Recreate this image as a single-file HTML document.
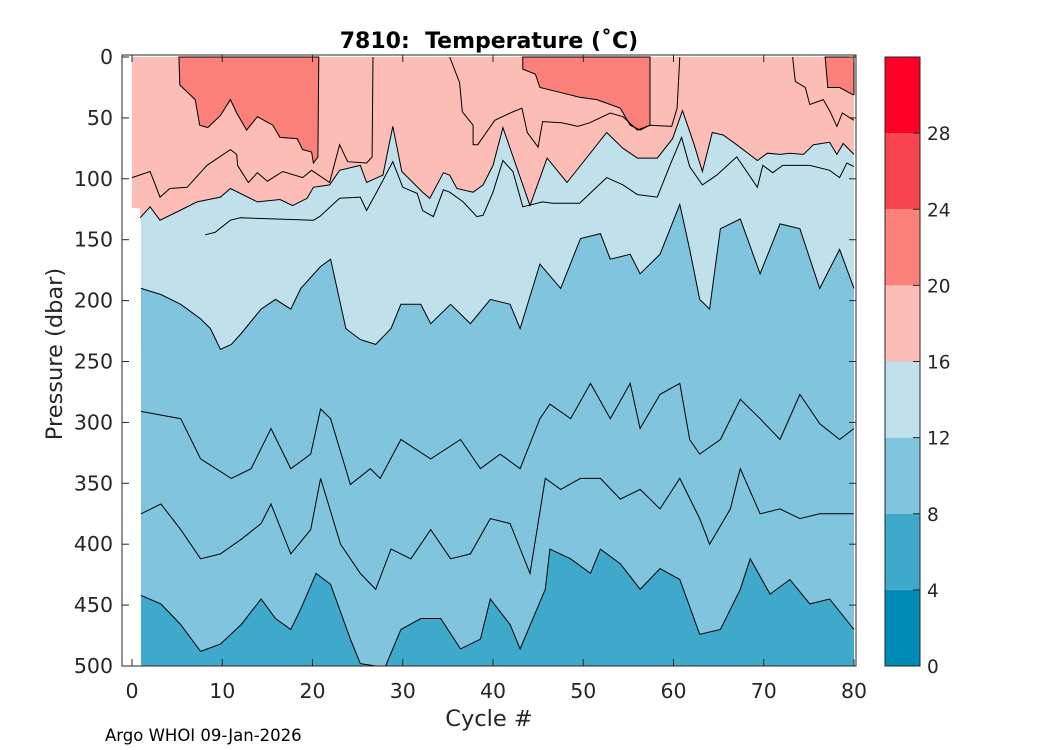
<!DOCTYPE html>
<html><head><meta charset="utf-8"><style>
body{margin:0;background:#fff;}
svg{display:block;font-family:"DejaVu Sans","Liberation Sans",sans-serif;}
</style></head><body>
<svg id="chart" width="1050" height="750"></svg>
<script>
const levels=[0,4,8,12,16,20,24,28,32];
const levelColors=["#008bb7","#3fa9cc","#80c4dd","#c0e1ec","#fdbdb7","#fa8079","#f7444f","#fe0026"];
const xTicks=[0,10,20,30,40,50,60,70,80];
const yTicks=[0,50,100,150,200,250,300,350,400,450,500];
const cbTicks=[0,4,8,12,16,20,24,28];
const isoAcyc=[0.9,2.0,3.1,5.3,7.2,9.8,10.9,13.9,16.4,17.8,19.4,20.1,21.9,23.0,25.3,26.0,27.8,28.9,29.9,32.2,33.0,34.5,35.2,36.0,37.8,38.9,40.0,41.1,44.1,46.0,48.2,52.6,54.4,56.0,58.2,59.9,61.0,62.2,63.2,64.3,65.5,67.0,69.3,70.4,71.8,72.9,74.4,75.5,77.3,78.1,78.8,80];
const isoAdep=[132,123,134,126,119,115,108,119,117,122,116,107,105,93,89,103,97,57,94,111,116,95,97,108,111,105,89,58,122,83,103,62,75,83,83,67,44,70,94,62,64,72,85,79,80,79,80,72,70,80,71,80];
const iso14cyc=[8.1,9.2,10.9,12.0,20.1,20.8,23.0,25.3,26.0,27.1,28.9,30.0,31.6,32.2,33.4,34.5,35.2,36.7,38.2,38.9,40.0,41.1,42.2,43.3,45.5,46.6,49.6,52.6,54.4,56.0,58.2,59.6,60.9,61.8,63.2,64.8,67.0,69.3,69.9,71.0,72.1,75.1,77.3,78.4,79.2,80];
const iso14dep=[146,144,134,132,134,131,116,115,126,111,86,107,112,126,131,109,111,119,131,130,111,85,94,123,119,120,120,99,105,113,115,89,66,90,105,97,82,107,89,95,89,89,93,99,87,90];
const iso18aCyc=[0,2.0,3.1,4.2,6.1,8.3,10.9,11.6,11.7,12.9,13.9,15.0,16.7,18.9,19.9,21.9,23.0,23.9,26.0,26.6,26.7];
const iso18aDep=[99,94,115,108,107,89,76,80,89,103,95,102,94,99,93,103,72,86,87,82,0];
const iso18bCyc=[35.2,36.3,36.6,37.8,37.8,38.3,40.2,41.9,43.2,43.8,45.0,45.5,47.6,49.4,50.7,53.0,54.4,56.0,57.4,59.8,60.4,60.7];
const iso18bDep=[0,21,45,56,72,72,52,46,42,62,74,53,54,57,54,46,49,60,56,57,42,0];
const iso18cCyc=[73.2,73.5,74.6,75.1,76.6,77.3,78.1,78.7,80];
const iso18cDep=[0,20,25,39,35,44,57,46,52];
const isoBcyc=[1,3.2,5.4,7.6,8.7,9.8,11,12.1,14.3,15.9,17.6,18.7,20.9,22,23.7,25.3,27,28.7,29.8,32,33.1,35.3,37.5,39.7,41.9,43,45.2,47.5,49.7,51.9,53,55.2,56.3,58.5,60.7,61.8,62.9,64,65.2,67.4,69.6,71.8,74,76.2,78.4,80];
const isoBdep=[190,195,203,215,223,240,236,227,207,199,207,190,172,166,223,232,236,223,203,203,219,203,219,199,203,223,170,190,149,145,166,162,178,162,121,158,199,207,141,133,178,137,141,190,158,190];
const iso10cyc=[1,5.4,7.6,11,13.2,15.4,17.6,19.8,20.9,22,24.2,26.4,27.5,29.8,33.1,36.4,38.6,40.8,43,45.2,46.3,48.6,50.8,53,55.2,56.3,58.5,60.7,61.8,62.9,65.2,67.4,69.6,71.8,74,76.2,78.4,80];
const iso10dep=[291,297,330,346,338,305,338,326,289,297,351,338,346,314,330,314,338,326,338,297,285,297,268,297,268,305,277,268,314,326,314,281,297,314,277,301,314,305];
const iso9cyc=[1,3.2,5.4,7.6,9.8,12.1,14.3,15.4,17.6,19.8,20.9,23.1,25.3,27,28.7,30.9,33.1,35.3,37.5,39.7,41.9,44.1,45.8,47.5,49.7,51.9,54.1,56.3,58.5,60.7,62.9,64,66.3,67.4,69.6,71.8,74,76.2,80];
const iso9dep=[375,367,388,412,408,396,383,367,408,388,346,400,424,437,404,412,388,412,408,379,383,424,346,355,346,346,363,355,371,346,379,400,371,338,375,371,379,375,375];
const isoCcyc=[1,3.2,5.4,7.6,9.8,12.1,14.3,15.9,17.6,18.7,20.4,22,24.2,25.3,27,28.1,29.8,32,34.2,36.4,38.6,39.7,41.9,43,45.8,46.3,48.6,50.8,51.9,54.1,56.3,58.5,60.7,62.9,65.2,67.4,68.5,70.7,72.9,75.1,77.3,80];
const isoCdep=[442,449,466,488,482,466,445,461,470,453,424,433,478,498,500,500,470,461,461,486,478,445,466,486,437,404,412,424,404,416,437,420,429,474,470,437,412,441,429,449,445,470];
const warm1cyc=[5.2,5.3,7.0,7.5,8.4,9.8,10.9,11.6,12.7,13.9,15.6,16.4,18.3,18.9,19.9,20.1,20.6,20.7];
const warm1dep=[0,23,35,56,58,48,35,46,60,49,56,66,67,76,78,87,82,0];
const warm2cyc=[43.3,43.3,44.7,45.2,47.4,49.6,51.5,53.0,54.1,55.2,56.3,57.4,57.4];
const warm2dep=[0,10,14,25,29,33,35,39,42,56,60,56,0];
const warm3cyc=[76.8,77.1,78.4,79.9,80,80];
const warm3dep=[0,25,25,31,31,0];

const svg=document.getElementById('chart');
const NS='http://www.w3.org/2000/svg';
const X0=132,X1=854,Y0=57,Y1=666;
const sx=c=>X0+(c-0)/80*(X1-X0);
const sy=d=>Y0+d/500*(Y1-Y0);
const cy=v=>Y1-(v-0)/32*(Y1-Y0);
function mk(tag,attrs,parent){const e=document.createElementNS(NS,tag);for(const k in attrs)e.setAttribute(k,attrs[k]);(parent||svg).appendChild(e);return e;}
function pts(cs,ds){return cs.map((c,i)=>sx(c).toFixed(1)+','+sy(ds[i]).toFixed(1)).join(' ');}
function above(cs,ds){return sx(cs[0])+','+sy(0)+' '+pts(cs,ds)+' '+sx(cs[cs.length-1])+','+sy(0);}

const g=mk('g',{});


let r=mk('rect',{x:sx(1),y:sy(0),width:sx(80)-sx(1),height:sy(500)-sy(0),fill:levelColors[1]},g);

let p=mk('polygon',{points:above(isoCcyc,isoCdep),fill:levelColors[2]},g);

p=mk('polygon',{points:above(isoBcyc,isoBdep),fill:levelColors[3]},g);

r=mk('rect',{x:sx(0),y:sy(0),width:sx(1.2)-sx(0),height:sy(124)-sy(0),fill:levelColors[4]},g);

p=mk('polygon',{points:above(isoAcyc,isoAdep),fill:levelColors[4]},g);

[[warm1cyc,warm1dep],[warm2cyc,warm2dep],[warm3cyc,warm3dep]].forEach(([c,d],i)=>{
 const q=mk('polygon',{points:pts(c,d),fill:levelColors[5],stroke:'#000','stroke-width':1},g);
 
 
});
[[isoAcyc,isoAdep,'isotherm-16'],[iso14cyc,iso14dep,'isotherm-14'],[iso18aCyc,iso18aDep,'isotherm-18-a'],[iso18bCyc,iso18bDep,'isotherm-18-b'],[iso18cCyc,iso18cDep,'isotherm-18-c'],[isoBcyc,isoBdep,'isotherm-12'],[iso10cyc,iso10dep,'isotherm-10'],[iso9cyc,iso9dep,'isotherm-9'],[isoCcyc,isoCdep,'isotherm-8']].forEach(([c,d,n])=>{
 const l=mk('polyline',{points:pts(c,d),fill:'none',stroke:'#000','stroke-width':1},g);
 
 
});
const fr=mk('rect',{x:122,y:55,width:734,height:611,fill:'none',stroke:'#262626','stroke-width':1});

xTicks.forEach(t=>{
 const x=sx(t);
 const a=mk('line',{x1:x,y1:666,x2:x,y2:659,stroke:'#262626'});
 const b=mk('line',{x1:x,y1:55,x2:x,y2:62,stroke:'#262626'});
 const tx=mk('text',{x:x,y:698,'text-anchor':'middle','font-size':20.5,fill:'#262626'});tx.textContent=t;
 
});
yTicks.forEach(t=>{
 const y=sy(t);
 const a=mk('line',{x1:122,y1:y,x2:129,y2:y,stroke:'#262626'});
 const b=mk('line',{x1:856,y1:y,x2:849,y2:y,stroke:'#262626'});
 const tx=mk('text',{x:113,y:y+7,'text-anchor':'end','font-size':20.5,fill:'#262626'});tx.textContent=t;
 
});
let t=mk('text',{x:489,y:48,'text-anchor':'middle','font-size':22,'font-weight':'bold',fill:'#000',style:'white-space:pre'});t.textContent='7810:  Temperature (˚C)';

t=mk('text',{x:489,y:726,'text-anchor':'middle','font-size':22.5,fill:'#262626'});t.textContent='Cycle #';

t=mk('text',{x:0,y:0,'text-anchor':'middle','font-size':22.5,fill:'#262626',transform:'translate(62,354) rotate(-90)'});t.textContent='Pressure (dbar)';

t=mk('text',{x:105,y:741,'font-size':16.5,fill:'#000'});t.textContent='Argo WHOI 09-Jan-2026';

const cb=mk('g',{});
levelColors.forEach((c,i)=>{
 const rr=mk('rect',{x:885,y:cy(levels[i+1]),width:35,height:cy(levels[i])-cy(levels[i+1]),fill:c},cb);
 
});
const cf=mk('rect',{x:885,y:Y0,width:35,height:Y1-Y0,fill:'none',stroke:'#262626'},cb);

cbTicks.forEach(v=>{
 const y=cy(v);
 const a=mk('line',{x1:913,y1:y,x2:920,y2:y,stroke:'#262626'},cb);
 const tx=mk('text',{x:927,y:y+7,'font-size':18.5,fill:'#262626'},cb);tx.textContent=v;
 
});
</script>
</body></html>
